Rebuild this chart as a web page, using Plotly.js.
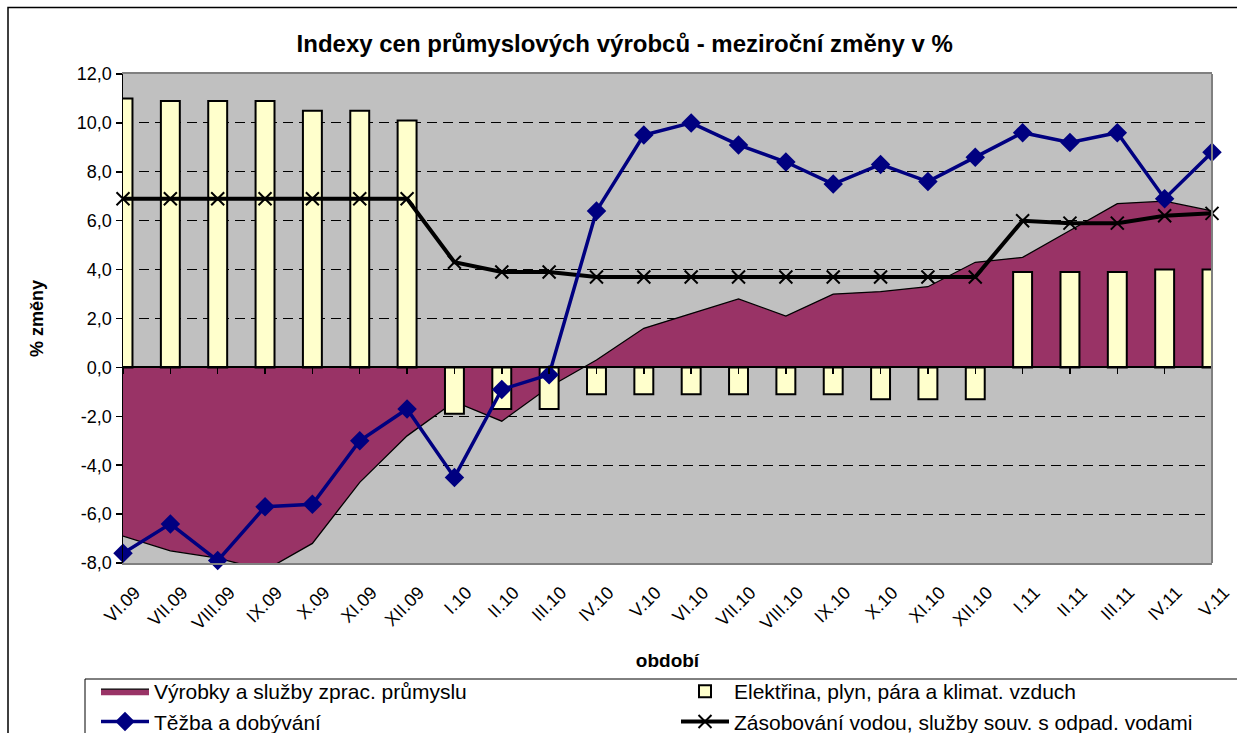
<!DOCTYPE html>
<html>
<head>
<meta charset="utf-8">
<script src="https://cdn.plot.ly/plotly-3.0.1.min.js"></script>
<style>
html,body{margin:0;padding:0;background:#fff;}
#chart{width:1237px;height:733px;}
</style>
</head>
<body>
<div id="chart"></div>
<script>
// ---- data ----
const months = ['VI.09','VII.09','VIII.09','IX.09','X.09','XI.09','XII.09','I.10','II.10','III.10','IV.10','V.10','VI.10','VII.10','VIII.10','IX.10','X.10','XI.10','XII.10','I.11','II.11','III.11','IV.11','V.11'];
const vyrobky = [-6.9,-7.5,-7.8,-8.3,-7.2,-4.7,-2.8,-1.4,-2.2,-0.8,0.3,1.6,2.2,2.8,2.1,3.0,3.1,3.3,4.3,4.5,5.6,6.7,6.8,6.4];
const elektrina = [11.0,10.9,10.9,10.9,10.5,10.5,10.1,-1.9,-1.7,-1.7,-1.1,-1.1,-1.1,-1.1,-1.1,-1.1,-1.3,-1.3,-1.3,3.9,3.9,3.9,4.0,4.0];
const tezba = [-7.6,-6.4,-7.9,-5.7,-5.6,-3.0,-1.7,-4.5,-0.9,-0.3,6.4,9.5,10.0,9.1,8.4,7.5,8.3,7.6,8.6,9.6,9.2,9.6,6.9,8.8];
const zasobovani = [6.9,6.9,6.9,6.9,6.9,6.9,6.9,4.3,3.9,3.9,3.7,3.7,3.7,3.7,3.7,3.7,3.7,3.7,3.7,6.0,5.9,5.9,6.2,6.3];
const yTickVals = [-8,-6,-4,-2,0,2,4,6,8,10,12];
const yTickText = ['-8,0','-6,0','-4,0','-2,0','0,0','2,0','4,0','6,0','8,0','10,0','12,0'];
const seriesNames = ['Výrobky a služby zprac. průmyslu','Elektřina, plyn, pára a klimat. vzduch','Těžba a dobývání','Zásobování vodou, služby souv. s odpad. vodami'];
const chartTitle = 'Indexy cen průmyslových výrobců - meziroční změny v %';
const xTitle = 'období';
const yTitle = '% změny';

const FONT = 'Liberation Sans, Arial, sans-serif';

const traces = [
  {
    type:'scatter', mode:'lines', x:months, y:vyrobky, name:seriesNames[0],
    fill:'tozeroy', fillcolor:'#993366', line:{color:'#000000', width:1.3},
    xaxis:'x', yaxis:'y', legend:'legend'
  },
  {
    type:'bar', x:months, y:elektrina, name:seriesNames[1], width:0.4,
    marker:{color:'#FFFFCC', line:{color:'#000000', width:2}},
    xaxis:'x2', yaxis:'y2', legend:'legend2'
  },
  {
    type:'scatter', mode:'lines+markers', x:months, y:zasobovani, name:seriesNames[3],
    line:{color:'#000000', width:4},
    marker:{symbol:'x-thin', size:13, color:'#000000', line:{color:'#000000', width:2}},
    cliponaxis:false, xaxis:'x2', yaxis:'y2', legend:'legend2'
  },
  {
    type:'scatter', mode:'lines+markers', x:months, y:tezba, name:seriesNames[2],
    line:{color:'#000080', width:3.5},
    marker:{symbol:'diamond', size:15, color:'#000080'},
    cliponaxis:false, xaxis:'x2', yaxis:'y2', legend:'legend'
  }
];

const layout = {
  width:1237, height:733,
  margin:{l:123, r:25, t:74, b:170},
  paper_bgcolor:'#ffffff', plot_bgcolor:'#C0C0C0',
  font:{family:FONT, color:'#000000', size:17},
  showlegend:true,
  bargap:0,
  title:{text:chartTitle, font:{family:FONT, size:24, weight:'bold', color:'#000'},
         x:0.505, xref:'container', xanchor:'center', y:1-44/733, yref:'container', yanchor:'middle'},
  xaxis:{
    type:'category', categoryorder:'array', categoryarray:months, range:[0,23],
    showgrid:false, zeroline:false, showline:true, mirror:true, linecolor:'#808080', linewidth:2,
    ticks:'', tickangle:-45, tickfont:{family:FONT, size:18}, ticklabelshift:12, ticklabelstandoff:10,
    title:{text:xTitle, font:{family:FONT, size:19, weight:'bold'}, standoff:24},
    automargin:false, fixedrange:true
  },
  yaxis:{
    range:[-8,12], tickvals:yTickVals, ticktext:yTickText,
    tickfont:{family:FONT, size:18}, ticks:'outside', ticklen:6, tickcolor:'#000', tickwidth:1.5,
    showline:true, linecolor:'#000000', linewidth:1.5, mirror:false,
    showgrid:true, gridcolor:'#000000', gridwidth:1, griddash:'10px,6px', zeroline:false,
    title:{text:yTitle, font:{family:FONT, size:18, weight:'bold'}, standoff:28},
    automargin:false, fixedrange:true
  },
  xaxis2:{
    type:'category', categoryorder:'array', categoryarray:months, range:[0,23],
    overlaying:'x', anchor:'free', position:0.4,
    showgrid:false, zeroline:false, showline:true, linecolor:'#000000', linewidth:2,
    ticks:'outside', ticklen:6, tickcolor:'#000000', tickwidth:1.5, showticklabels:false,
    automargin:false, fixedrange:true
  },
  yaxis2:{
    range:[-8,12], overlaying:'y', visible:false, showgrid:false, zeroline:false,
    automargin:false, fixedrange:true
  },
  legend:{
    xref:'paper', yref:'container',
    x:(96-123)/1089, xanchor:'left', y:1-671/733, yanchor:'top',
    orientation:'v', bgcolor:'rgba(0,0,0,0)', borderwidth:0,
    font:{family:FONT, size:21}, itemwidth:48, traceorder:'normal'
  },
  legend2:{
    xref:'paper', yref:'container',
    x:(676-123)/1089, xanchor:'left', y:1-671/733, yanchor:'top',
    orientation:'v', bgcolor:'rgba(0,0,0,0)', borderwidth:0,
    font:{family:FONT, size:21}, itemwidth:48, traceorder:'normal'
  },
  shapes:[
    // right plot border
    {type:'line', xref:'paper', yref:'paper', x0:1, x1:1, y0:0, y1:1, line:{color:'#808080', width:2}, layer:'above'},
    // legend box
    {type:'rect', xref:'paper', yref:'paper', x0:(85-123)/1089, x1:(1300-123)/1089, y0:(563-679)/489, y1:(563-760)/489,
     line:{color:'#000000', width:1}, fillcolor:'rgba(0,0,0,0)', layer:'above'},
    // outer chart border
    {type:'rect', xref:'paper', yref:'paper', x0:(8-123)/1089, x1:(1300-123)/1089, y0:(563-7.5)/489, y1:(563-800)/489,
     line:{color:'#000000', width:1.5}, fillcolor:'rgba(0,0,0,0)', layer:'above'}
  ]
};

Plotly.newPlot('chart', traces, layout, {staticPlot:true, displayModeBar:false});
</script>
</body>
</html>
